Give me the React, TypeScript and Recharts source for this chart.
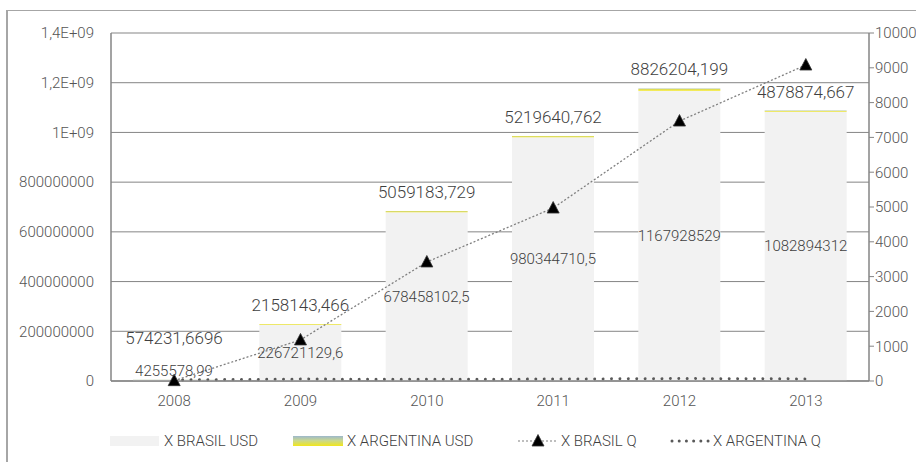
import React from 'react';
import {
  ComposedChart,
  Bar,
  Line,
  XAxis,
  YAxis,
  CartesianGrid,
  LabelList,
  Legend,
} from 'recharts';

const years = ['2008', '2009', '2010', '2011', '2012', '2013'];
const brasilUsd = [4255578.99, 226721129.6, 678458102.5, 980344710.5, 1167928529, 1082894312];
const argentinaUsd = [574231.6696, 2158143.466, 5059183.729, 5219640.762, 8826204.199, 4878874.667];
const brasilQ = [10, 1180, 3420, 4970, 7470, 9080];
const argentinaQ = [30, 55, 50, 55, 70, 60];

const leftTicks = [0, 200000000, 400000000, 600000000, 800000000, 1000000000, 1200000000, 1400000000];
const leftTickLabels = ['0', '200000000', '400000000', '600000000', '800000000', '1E+09', '1,2E+09', '1,4E+09'];
const rightTicks = [0, 1000, 2000, 3000, 4000, 5000, 6000, 7000, 8000, 9000, 10000];

const seriesNames = ['X BRASIL USD', 'X ARGENTINA USD', 'X BRASIL Q', 'X ARGENTINA Q'];

const data = years.map((y, i) => ({
  year: y,
  brasilUsd: brasilUsd[i],
  argentinaUsd: argentinaUsd[i],
  brasilQ: brasilQ[i],
  argentinaQ: argentinaQ[i],
}));

const FONT = 'Roboto, "Liberation Sans", sans-serif';
const WEIGHT = 300;
const GRID = '#858585';
const TICK_COLOR = '#555555';
const LABEL_COLOR = '#3f3f3f';
const PLOT_BOTTOM = 381;

const fmt = (v: number) => String(v).replace('.', ',');

const brasilLabel = (props: any) => {
  const { x, y, width, height, value } = props;
  const cx = x + width / 2;
  const bottom = y + height;
  const cy = Math.min(y + height / 2, bottom - 10);
  return (
    <text x={cx} y={cy} textAnchor="middle" dominantBaseline="central" fontSize={15} fontWeight={WEIGHT} fill={LABEL_COLOR} fontFamily={FONT}>
      {fmt(value)}
    </text>
  );
};

const argentinaLabel = (props: any) => {
  const { x, y, width, height, value } = props;
  const cx = x + width / 2;
  const argBottom = y + height;
  const brasilLabelY = Math.min((argBottom + PLOT_BOTTOM) / 2, PLOT_BOTTOM - 10);
  const cy = Math.min(y - 19, brasilLabelY - 33);
  return (
    <text x={cx} y={cy} textAnchor="middle" dominantBaseline="central" fontSize={17} fontWeight={WEIGHT} fill={LABEL_COLOR} fontFamily={FONT}>
      {fmt(value)}
    </text>
  );
};

const Triangle = (props: any) => {
  const { cx, cy } = props;
  if (cx == null || cy == null) return null;
  return (
    <polygon
      points={`${cx},${cy - 6.5} ${cx - 6},${cy + 5} ${cx + 6},${cy + 5}`}
      fill="#000"
      stroke="#333"
      strokeWidth={0.8}
    />
  );
};

const renderLegend = () => {
  const textStyle: React.CSSProperties = {
    position: 'absolute',
    top: 0,
    height: 22,
    lineHeight: '22px',
    fontSize: 15,
    fontWeight: WEIGHT,
    color: LABEL_COLOR,
    fontFamily: FONT,
    whiteSpace: 'nowrap',
  };
  return (
    <div style={{ position: 'relative', width: 916, height: 22 }}>
      <div style={{ position: 'absolute', left: 110, top: 6, width: 49, height: 10, background: '#f2f2f2' }} />
      <div style={{ ...textStyle, left: 164 }}>{seriesNames[0]}</div>
      <div
        style={{
          position: 'absolute',
          left: 293,
          top: 6,
          width: 50,
          height: 10,
          background: 'linear-gradient(to bottom, #9db8cc 0%, #c9d890 45%, #f2e61a 100%)',
        }}
      />
      <div style={{ ...textStyle, left: 347 }}>{seriesNames[1]}</div>
      <svg style={{ position: 'absolute', left: 517, top: 0 }} width={42} height={22}>
        <line x1={1} y1={11} x2={41} y2={11} stroke="#7f7f7f" strokeWidth={1.2} strokeDasharray="2 2" />
        <polygon points="21,4.5 15,16 27,16" fill="#000" stroke="#333" strokeWidth={0.8} />
      </svg>
      <div style={{ ...textStyle, left: 561 }}>{seriesNames[2]}</div>
      <svg style={{ position: 'absolute', left: 669, top: 0 }} width={42} height={22}>
        <line x1={3} y1={11} x2={40} y2={11} stroke="#595959" strokeWidth={3} strokeLinecap="round" strokeDasharray="0.01 7.2" />
      </svg>
      <div style={{ ...textStyle, left: 713 }}>{seriesNames[3]}</div>
    </div>
  );
};

const tickStyle = { fill: TICK_COLOR, fontSize: 15, fontWeight: WEIGHT };

export default function App() {
  return (
    <div style={{ position: 'absolute', left: 0, top: 0, width: 916, height: 462, background: '#fff', overflow: 'hidden' }}>
      <div
        style={{
          position: 'absolute',
          left: 6,
          top: 10,
          width: 930,
          height: 470,
          border: '1px solid #a6a6a6',
          borderRightWidth: 0,
          borderBottomWidth: 0,
          borderLeftWidth: 2,
        }}
      />
      <ComposedChart
        width={916}
        height={462}
        data={data}
        margin={{ top: 33, right: 0, bottom: 51, left: 0 }}
        barSize={82}
        style={{ fontFamily: FONT }}
      >
        <defs>
          <linearGradient id="argGrad" x1="0" y1="0" x2="0" y2="1">
            <stop offset="0" stopColor="#b4c6a4" />
            <stop offset="0.35" stopColor="#dcdc60" />
            <stop offset="1" stopColor="#f2e61a" />
          </linearGradient>
        </defs>
        <CartesianGrid yAxisId="left" vertical={false} stroke={GRID} strokeWidth={1} />
        <XAxis
          dataKey="year"
          height={30}
          tickLine={false}
          tickSize={0}
          tickMargin={14}
          axisLine={{ stroke: GRID, strokeWidth: 1.5 }}
          tick={tickStyle}
          interval={0}
        />
        <YAxis
          yAxisId="left"
          orientation="left"
          width={111}
          domain={[0, 1400000000]}
          ticks={leftTicks}
          tickFormatter={(v: number) => leftTickLabels[leftTicks.indexOf(v)]}
          tickLine={false}
          tickSize={0}
          tickMargin={17}
          axisLine={{ stroke: GRID, strokeWidth: 1.5 }}
          tick={tickStyle}
          interval={0}
        />
        <YAxis
          yAxisId="right"
          orientation="right"
          width={47}
          domain={[0, 10000]}
          ticks={rightTicks}
          tickSize={5}
          tickMargin={1}
          tickLine={{ stroke: GRID }}
          axisLine={{ stroke: GRID, strokeWidth: 1.5 }}
          tick={tickStyle}
          interval={0}
        />
        <Bar
          yAxisId="left"
          dataKey="brasilUsd"
          name={seriesNames[0]}
          stackId="usd"
          fill="#f2f2f2"
          isAnimationActive={false}
        >
          <LabelList dataKey="brasilUsd" content={brasilLabel} />
        </Bar>
        <Bar
          yAxisId="left"
          dataKey="argentinaUsd"
          name={seriesNames[1]}
          stackId="usd"
          fill="url(#argGrad)"
          isAnimationActive={false}
        >
          <LabelList dataKey="argentinaUsd" content={argentinaLabel} />
        </Bar>
        <Line
          yAxisId="right"
          dataKey="brasilQ"
          name={seriesNames[2]}
          stroke="#7f7f7f"
          strokeWidth={1.3}
          strokeDasharray="2 2"
          dot={<Triangle />}
          activeDot={false}
          isAnimationActive={false}
        />
        <Line
          yAxisId="right"
          dataKey="argentinaQ"
          name={seriesNames[3]}
          stroke="#595959"
          strokeWidth={3}
          strokeLinecap="round"
          strokeDasharray="0.01 8.4"
          dot={false}
          activeDot={false}
          isAnimationActive={false}
        />
        <Legend
          layout="horizontal"
          verticalAlign="middle"
          align="center"
          content={renderLegend}
          wrapperStyle={{ left: 0, top: 430, width: 916, height: 22 }}
        />
      </ComposedChart>
    </div>
  );
}
